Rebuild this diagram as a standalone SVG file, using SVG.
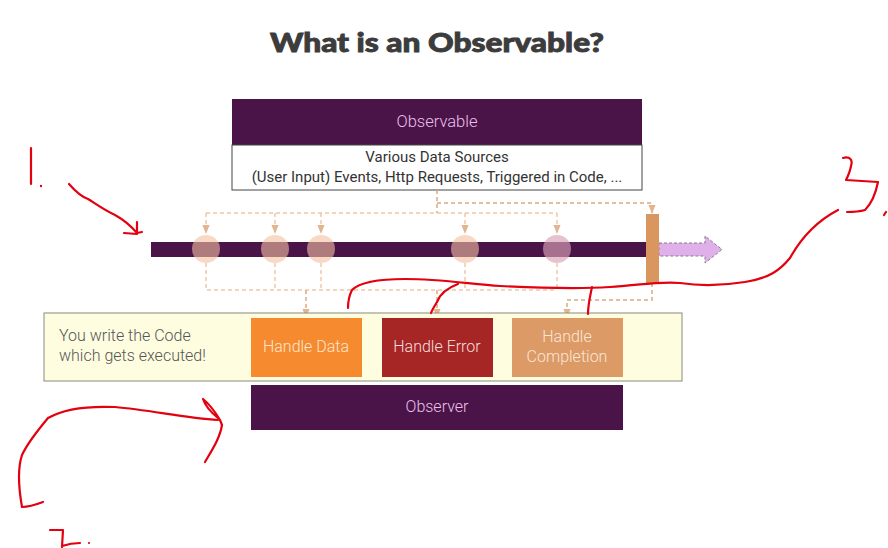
<svg xmlns="http://www.w3.org/2000/svg" width="888" height="548" viewBox="0 0 888 548">
<defs>
<style>
.title{font-family:Lato,"Open Sans",sans-serif;font-weight:900;font-size:27px;fill:#3c3c3c;stroke:#3c3c3c;stroke-width:0.9}
.lt{font-family:Roboto,"Liberation Sans",sans-serif;font-size:15px;font-weight:300}
.sm{font-family:Roboto,"Liberation Sans",sans-serif;font-size:15px;fill:#333}
.purple{fill:#4a1449}
.dash{fill:none;stroke:#f0c6a6;stroke-width:1.5;stroke-dasharray:4 3}
.dash2{fill:none;stroke:#dcaa80;stroke-width:1.5;stroke-dasharray:4 3}
.red{fill:none;stroke:#e3000f;stroke-width:2.2;stroke-linecap:round;stroke-linejoin:round}
</style>
<marker id="ah" viewBox="0 0 10 10" refX="9" refY="5" markerWidth="6" markerHeight="6" orient="auto"><path d="M0,1 L10,5 L0,9 z" fill="#e3b48e"/></marker>
</defs>
<rect width="888" height="548" fill="#fff"/>
<text class="title" x="437" y="52" text-anchor="middle" textLength="334" lengthAdjust="spacingAndGlyphs">What is an Observable?</text>

<g id="observable">
<rect x="232" y="99" width="410" height="46" class="purple"/>
<text class="lt" x="437" y="127" text-anchor="middle" fill="#ecc0ec" style="font-size:16.5px">Observable</text>
<rect x="232" y="145" width="410" height="45" fill="#fff" stroke="#444" stroke-width="1"/>
<text class="sm" x="437" y="162" text-anchor="middle">Various Data Sources</text>
<text class="sm" x="437" y="182" text-anchor="middle">(User Input) Events, Http Requests, Triggered in Code, ...</text>
</g>

<g id="stream">
<rect x="151" y="242" width="500" height="15" class="purple"/>
<path d="M659,243 H705 V236 L722,249.5 L705,263 V256 H659 Z" fill="#e0b0ea" stroke="#8a7a8a" stroke-width="1" stroke-dasharray="3 2"/>
<rect x="646" y="214" width="13" height="69" fill="#d9975f"/>
</g>

<g id="events">
<circle cx="206" cy="249" r="14" fill="#f3bfa0" opacity="0.6"/>
<circle cx="275" cy="249" r="14" fill="#f3bfa0" opacity="0.6"/>
<circle cx="321" cy="249" r="14" fill="#f3bfa0" opacity="0.6"/>
<circle cx="465" cy="249" r="14" fill="#f3bfa0" opacity="0.6"/>
<circle cx="557" cy="249" r="14" fill="#d8a2b6" opacity="0.65"/>
</g>

<g id="connectors">
<path class="dash2" d="M437,190 V213"/>
<path class="dash" d="M206,213 H557"/>
<path class="dash" d="M206,213 V233" marker-end="url(#ah)"/>
<path class="dash" d="M275,213 V233" marker-end="url(#ah)"/>
<path class="dash" d="M321,213 V233" marker-end="url(#ah)"/>
<path class="dash" d="M465,213 V233" marker-end="url(#ah)"/>
<path class="dash" d="M557,213 V233" marker-end="url(#ah)"/>
<path class="dash2" d="M437,203 H652 V213" marker-end="url(#ah)"/>
<path class="dash" d="M206,263 V290 H557"/>
<path class="dash" d="M275,263 V290"/>
<path class="dash" d="M321,263 V290"/>
<path class="dash" d="M465,263 V290"/>
<path class="dash" d="M557,263 V290"/>
<path class="dash2" d="M306,290 V317" marker-end="url(#ah)"/>
<path class="dash2" d="M437,290 V317" marker-end="url(#ah)"/>
<path class="dash2" d="M652,283 V300 H567 V317" marker-end="url(#ah)"/>
</g>

<g id="code">
<rect x="44" y="313" width="638" height="68" fill="#fefde0" stroke="#8a8a80" stroke-width="1"/>
<text class="lt" x="59" y="341" fill="#555" style="font-size:16px">You write the Code</text>
<text class="lt" x="59" y="361" fill="#555" style="font-size:16px">which gets executed!</text>
</g>
<g id="handle-data">
<rect x="251" y="318" width="111" height="59" fill="#f58b2e"/>
<text class="lt" x="306" y="352" text-anchor="middle" fill="#fde6d0" style="font-size:16px">Handle Data</text>
</g>
<g id="handle-error">
<rect x="382" y="318" width="111" height="59" fill="#a62626"/>
<text class="lt" x="437" y="352" text-anchor="middle" fill="#f6dede" style="font-size:16px">Handle Error</text>
</g>
<g id="handle-completion">
<rect x="512" y="318" width="111" height="59" fill="#dc9a66"/>
<text class="lt" x="567" y="342" text-anchor="middle" fill="#fbe6d6" style="font-size:16px">Handle</text>
<text class="lt" x="567" y="362" text-anchor="middle" fill="#fbe6d6" style="font-size:16px">Completion</text>
</g>
<g id="observer">
<rect x="251" y="385" width="372" height="45" class="purple"/>
<text class="lt" x="437" y="412" text-anchor="middle" fill="#ecc0ec" style="font-size:16px">Observer</text>
</g>

<g id="annotations">
<path class="red" d="M31,148 V184"/>
<circle cx="41" cy="186" r="1.2" fill="#e3000f"/>
<path class="red" d="M69,184 C76,192 82,197 88,199 C96,204 104,210 115,215 C124,220 131,226 137,233"/>
<path class="red" d="M137,222 L137,234 L124,233 M137,233 L142,232"/>
<path class="red" d="M843,158 C850,156 853,160 851,166 C850,172 847,178 846,180 L878,182 C876,192 872,203 865,210 C858,212 852,212 847,212"/>
<path class="red" d="M884,215 L886,212"/>
<path class="red" d="M838,210 C815,222 800,240 790,258 C780,270 770,278 745,282 C720,286 700,286 680,283 C660,281 640,285 610,287 C580,289 540,288 500,286 C470,284 440,279 405,279 C380,279 360,282 352,290 C349,296 348,302 348,308"/>
<path class="red" d="M458,284 C447,288 440,294 437,302 C434,307 432,310 431,313"/>
<path class="red" d="M592,287 C590,297 588,305 588,314"/>
<path class="red" d="M43,502 C35,505 28,507 22,507 C19,490 17,470 22,455 C28,442 38,430 48,418 C65,408 90,406 115,407 C150,410 185,418 218,420"/>
<path class="red" d="M205,462 C212,450 220,438 222,425 L220,420 C214,410 208,403 203,399 C205,405 208,410 218,418"/>
<path class="red" d="M50,530 L63,530 L62,547 M62,546 C68,544 74,543 80,543"/>
<circle cx="89" cy="543" r="1.1" fill="#e3000f"/>
</g>
</svg>
